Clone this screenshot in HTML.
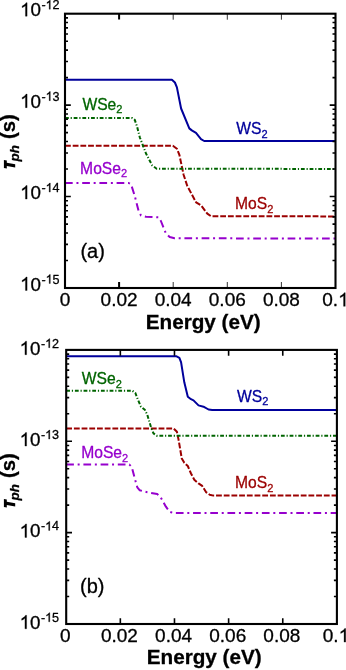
<!DOCTYPE html>
<html>
<head>
<meta charset="utf-8">
<title>Phonon-limited lifetime vs energy</title>
<style>
html, body { margin: 0; padding: 0; background: #ffffff; }
body { width: 346px; height: 670px; overflow: hidden; }
svg { display: block; font-family: "Liberation Sans", sans-serif; will-change: transform; }
text { stroke-width: 0.3px; stroke-linejoin: round; }
</style>
</head>
<body>
<svg width="346" height="670" viewBox="0 0 346 670" style='font-family: "Liberation Sans", sans-serif;'>
<rect x="0" y="0" width="346" height="670" fill="#ffffff"/>
<g stroke="#000">
<polyline points="65,183 128.6,183 131.1,184.4 134.8,196.1 138.6,211 141,215.5 146,216.8 158.5,217.3 160.9,221 165.9,233.4 169.7,237 174.6,238.3 335.5,238.5" fill="none" stroke="#9600cd" stroke-width="2" stroke-linejoin="round" stroke-dasharray="7.7 3.75 2 3.75"/>
<polyline points="65,145.7 172.9,145.7 176.9,148.7 179.4,154.9 183.6,174.8 187.3,186 196.1,202.4 201.1,205.4 207.3,213.6 211,216.2 335.5,216.4" fill="none" stroke="#9b0000" stroke-width="2" stroke-linejoin="round" stroke-dasharray="5.8 1.9"/>
<polyline points="65,117.9 131.8,117.9 134.8,119.9 137.3,127.4 139.8,137.3 146,153.5 152.2,165.4 156.7,168.7 335.5,168.95" fill="none" stroke="#006400" stroke-width="2" stroke-linejoin="round" stroke-dasharray="3.8 1.84 1.2 1.84"/>
<polyline points="65,79.7 171.9,79.7 174.9,82.5 176.9,87.4 181.1,108.5 189.3,128.4 191.8,130.4 196,132.9 201,139.2 204.2,141 335.5,141.05" fill="none" stroke="#00009b" stroke-width="2" stroke-linejoin="round"/>
<path d="M119.1 288v-5.9M119.1 13.7v5.9" stroke="#000" stroke-width="2" fill="none"/>
<path d="M173.2 288v-6M173.2 13.7v6" stroke="#000" stroke-width="0.8" fill="none"/>
<path d="M227.3 288v-6M227.3 13.7v6" stroke="#000" stroke-width="0.8" fill="none"/>
<path d="M281.4 288v-6M281.4 13.7v6" stroke="#000" stroke-width="0.8" fill="none"/>
<path d="M65 105.13h5.8M335.5 105.13h-5.8M65 77.61h3M335.5 77.61h-3M65 61.51h3M335.5 61.51h-3M65 50.08h3M335.5 50.08h-3M65 41.22h3M335.5 41.22h-3M65 33.98h3M335.5 33.98h-3M65 27.86h3M335.5 27.86h-3M65 22.56h3M335.5 22.56h-3M65 17.88h3M335.5 17.88h-3M65 196.57h5.8M335.5 196.57h-5.8M65 169.04h3M335.5 169.04h-3M65 152.94h3M335.5 152.94h-3M65 141.52h3M335.5 141.52h-3M65 132.66h3M335.5 132.66h-3M65 125.42h3M335.5 125.42h-3M65 119.3h3M335.5 119.3h-3M65 113.99h3M335.5 113.99h-3M65 109.32h3M335.5 109.32h-3M65 260.48h3M335.5 260.48h-3M65 244.38h3M335.5 244.38h-3M65 232.95h3M335.5 232.95h-3M65 224.09h3M335.5 224.09h-3M65 216.85h3M335.5 216.85h-3M65 210.73h3M335.5 210.73h-3M65 205.43h3M335.5 205.43h-3M65 200.75h3M335.5 200.75h-3" stroke="#000" stroke-width="1.6" fill="none"/>
<rect x="65" y="13.7" width="270.5" height="274.3" fill="none" stroke="#000" stroke-width="2.1"/>
<text x="59.72" y="306.35" font-size="19">0</text>
<text x="100.61" y="306.35" font-size="19">0.02</text>
<text x="154.71" y="306.35" font-size="19">0.04</text>
<text x="208.81" y="306.35" font-size="19">0.06</text>
<text x="262.91" y="306.35" font-size="19">0.08</text>
<text x="322.3" y="306.35" font-size="19">0.</text><path d="M763 0L583 0L583 1147Q518 1085 412.5 1023Q307 961 223 930L223 1104Q374 1175 487 1276Q600 1377 647 1472L763 1472Z" transform="translate(338.14 306.35) scale(0.00928 -0.00928)" fill="#000" stroke="#000" stroke-width="32.34"/>
<path d="M763 0L583 0L583 1147Q518 1085 412.5 1023Q307 961 223 930L223 1104Q374 1175 487 1276Q600 1377 647 1472L763 1472Z" transform="translate(20.1 16.2) scale(0.00918 -0.00918)" fill="#000" stroke="#000" stroke-width="32.68"/><text x="30.55" y="16.2" font-size="18.8">0</text>
<text x="41.4" y="9.2" font-size="12.6">-</text><path d="M763 0L583 0L583 1147Q518 1085 412.5 1023Q307 961 223 930L223 1104Q374 1175 487 1276Q600 1377 647 1472L763 1472Z" transform="translate(45.6 9.2) scale(0.00615 -0.00615)" fill="#000" stroke="#000" stroke-width="48.76"/><text x="52.6" y="9.2" font-size="12.6">2</text>
<path d="M763 0L583 0L583 1147Q518 1085 412.5 1023Q307 961 223 930L223 1104Q374 1175 487 1276Q600 1377 647 1472L763 1472Z" transform="translate(20.1 107.63) scale(0.00918 -0.00918)" fill="#000" stroke="#000" stroke-width="32.68"/><text x="30.55" y="107.63" font-size="18.8">0</text>
<text x="41.4" y="100.63" font-size="12.6">-</text><path d="M763 0L583 0L583 1147Q518 1085 412.5 1023Q307 961 223 930L223 1104Q374 1175 487 1276Q600 1377 647 1472L763 1472Z" transform="translate(45.6 100.63) scale(0.00615 -0.00615)" fill="#000" stroke="#000" stroke-width="48.76"/><text x="52.6" y="100.63" font-size="12.6">3</text>
<path d="M763 0L583 0L583 1147Q518 1085 412.5 1023Q307 961 223 930L223 1104Q374 1175 487 1276Q600 1377 647 1472L763 1472Z" transform="translate(20.1 199.07) scale(0.00918 -0.00918)" fill="#000" stroke="#000" stroke-width="32.68"/><text x="30.55" y="199.07" font-size="18.8">0</text>
<text x="41.4" y="192.07" font-size="12.6">-</text><path d="M763 0L583 0L583 1147Q518 1085 412.5 1023Q307 961 223 930L223 1104Q374 1175 487 1276Q600 1377 647 1472L763 1472Z" transform="translate(45.6 192.07) scale(0.00615 -0.00615)" fill="#000" stroke="#000" stroke-width="48.76"/><text x="52.6" y="192.07" font-size="12.6">4</text>
<path d="M763 0L583 0L583 1147Q518 1085 412.5 1023Q307 961 223 930L223 1104Q374 1175 487 1276Q600 1377 647 1472L763 1472Z" transform="translate(20.1 290.5) scale(0.00918 -0.00918)" fill="#000" stroke="#000" stroke-width="32.68"/><text x="30.55" y="290.5" font-size="18.8">0</text>
<text x="41.4" y="283.5" font-size="12.6">-</text><path d="M763 0L583 0L583 1147Q518 1085 412.5 1023Q307 961 223 930L223 1104Q374 1175 487 1276Q600 1377 647 1472L763 1472Z" transform="translate(45.6 283.5) scale(0.00615 -0.00615)" fill="#000" stroke="#000" stroke-width="48.76"/><text x="52.6" y="283.5" font-size="12.6">5</text>
<text x="203.2" y="328.9" font-size="20.7" font-weight="bold" text-anchor="middle">Energy (eV)</text>
<g transform="translate(15.2 168.6) rotate(-90)" font-weight="bold"><path d="M0.7,-11.3L8.7,-11.3L8.2,-8.4L5.8,-8.4L4.35,0L1.2,0L2.65,-8.4L0.2,-8.4Z" fill="#000" stroke="none"/><text x="7.2" y="3.7" font-size="13.4" font-style="italic">ph</text><text x="29.6" y="0" font-size="20.3">(s)</text></g>
<text x="80.4" y="258.4" font-size="20">(a)</text>
<text transform="translate(236.3 134.4) scale(0.96 1)" font-size="16.3" fill="#00009b" stroke="#00009b">WS<tspan font-size="11.5" dy="3.3">2</tspan></text>
<text transform="translate(82.4 110.1) scale(0.96 1)" font-size="16.3" fill="#006400" stroke="#006400">WSe<tspan font-size="11.5" dy="3.3">2</tspan></text>
<text transform="translate(235 209.3) scale(0.96 1)" font-size="16.3" fill="#9b0000" stroke="#9b0000">MoS<tspan font-size="11.5" dy="3.3">2</tspan></text>
<text transform="translate(80.1 173.8) scale(0.96 1)" font-size="16.3" fill="#9600cd" stroke="#9600cd">MoSe<tspan font-size="11.5" dy="3.3">2</tspan></text>
</g>
<g stroke="#000">
<polyline points="66.2,464.6 129.4,464.6 131.8,467 134.8,478.6 137.3,487.3 139.8,490.3 147.3,492.3 157.2,494 160.9,497.8 165.9,506.7 169.7,511.8 173.4,513.1 336.9,513.1" fill="none" stroke="#9600cd" stroke-width="2" stroke-linejoin="round" stroke-dasharray="7.7 3.75 2 3.75"/>
<polyline points="66.2,428.45 173.6,428.45 176.9,431.7 178.6,439.9 181.8,458.6 184.3,462.8 187.8,466 191,473.5 194.3,479.7 198.5,483.4 202.2,485.9 206,492.1 209.7,494.7 213.4,495.6 336.9,495.6" fill="none" stroke="#9b0000" stroke-width="2" stroke-linejoin="round" stroke-dasharray="5.8 1.9"/>
<polyline points="66.2,390.75 132.3,390.75 135.3,392.9 137.8,399.4 141,406.8 144.8,409.8 147.3,414.8 151,427.2 153.5,433.4 156.7,435.7 336.9,435.8" fill="none" stroke="#006400" stroke-width="2" stroke-linejoin="round" stroke-dasharray="3.8 1.84 1.2 1.84"/>
<polyline points="66.2,356.2 176.1,356.2 179.4,357.9 181.1,362.4 184.3,382.3 187.8,396.7 191,399.2 193.5,400.4 198.5,405.4 203.5,406.7 208.5,409.5 212.2,410 336.9,410" fill="none" stroke="#00009b" stroke-width="2" stroke-linejoin="round"/>
<path d="M120.34 624v-5.8M120.34 349.9v5.8" stroke="#000" stroke-width="1.6" fill="none"/>
<path d="M174.48 624v-5.8M174.48 349.9v5.8" stroke="#000" stroke-width="1.6" fill="none"/>
<path d="M228.62 624v-5.8M228.62 349.9v5.8" stroke="#000" stroke-width="1.6" fill="none"/>
<path d="M282.76 624v-5.8M282.76 349.9v5.8" stroke="#000" stroke-width="1.6" fill="none"/>
<path d="M66.2 441.27h5.8M336.9 441.27h-5.8M66.2 413.76h3M336.9 413.76h-3M66.2 397.67h3M336.9 397.67h-3M66.2 386.26h3M336.9 386.26h-3M66.2 377.4h3M336.9 377.4h-3M66.2 370.17h3M336.9 370.17h-3M66.2 364.05h3M336.9 364.05h-3M66.2 358.75h3M336.9 358.75h-3M66.2 354.08h3M336.9 354.08h-3M66.2 532.63h5.8M336.9 532.63h-5.8M66.2 505.13h3M336.9 505.13h-3M66.2 489.04h3M336.9 489.04h-3M66.2 477.63h3M336.9 477.63h-3M66.2 468.77h3M336.9 468.77h-3M66.2 461.54h3M336.9 461.54h-3M66.2 455.42h3M336.9 455.42h-3M66.2 450.12h3M336.9 450.12h-3M66.2 445.45h3M336.9 445.45h-3M66.2 596.5h3M336.9 596.5h-3M66.2 580.41h3M336.9 580.41h-3M66.2 568.99h3M336.9 568.99h-3M66.2 560.14h3M336.9 560.14h-3M66.2 552.9h3M336.9 552.9h-3M66.2 546.79h3M336.9 546.79h-3M66.2 541.49h3M336.9 541.49h-3M66.2 536.81h3M336.9 536.81h-3" stroke="#000" stroke-width="1.6" fill="none"/>
<rect x="66.2" y="349.9" width="270.7" height="274.1" fill="none" stroke="#000" stroke-width="2.1"/>
<text x="60.02" y="642.1" font-size="19">0</text>
<text x="100.95" y="642.1" font-size="19">0.02</text>
<text x="155.09" y="642.1" font-size="19">0.04</text>
<text x="209.23" y="642.1" font-size="19">0.06</text>
<text x="263.37" y="642.1" font-size="19">0.08</text>
<text x="322.8" y="642.1" font-size="19">0.</text><path d="M763 0L583 0L583 1147Q518 1085 412.5 1023Q307 961 223 930L223 1104Q374 1175 487 1276Q600 1377 647 1472L763 1472Z" transform="translate(338.64 642.1) scale(0.00928 -0.00928)" fill="#000" stroke="#000" stroke-width="32.34"/>
<path d="M763 0L583 0L583 1147Q518 1085 412.5 1023Q307 961 223 930L223 1104Q374 1175 487 1276Q600 1377 647 1472L763 1472Z" transform="translate(19.6 354.7) scale(0.00918 -0.00918)" fill="#000" stroke="#000" stroke-width="32.68"/><text x="30.05" y="354.7" font-size="18.8">0</text>
<text x="40.9" y="347.7" font-size="12.6">-</text><path d="M763 0L583 0L583 1147Q518 1085 412.5 1023Q307 961 223 930L223 1104Q374 1175 487 1276Q600 1377 647 1472L763 1472Z" transform="translate(45.1 347.7) scale(0.00615 -0.00615)" fill="#000" stroke="#000" stroke-width="48.76"/><text x="52.1" y="347.7" font-size="12.6">2</text>
<path d="M763 0L583 0L583 1147Q518 1085 412.5 1023Q307 961 223 930L223 1104Q374 1175 487 1276Q600 1377 647 1472L763 1472Z" transform="translate(19.6 446.07) scale(0.00918 -0.00918)" fill="#000" stroke="#000" stroke-width="32.68"/><text x="30.05" y="446.07" font-size="18.8">0</text>
<text x="40.9" y="439.07" font-size="12.6">-</text><path d="M763 0L583 0L583 1147Q518 1085 412.5 1023Q307 961 223 930L223 1104Q374 1175 487 1276Q600 1377 647 1472L763 1472Z" transform="translate(45.1 439.07) scale(0.00615 -0.00615)" fill="#000" stroke="#000" stroke-width="48.76"/><text x="52.1" y="439.07" font-size="12.6">3</text>
<path d="M763 0L583 0L583 1147Q518 1085 412.5 1023Q307 961 223 930L223 1104Q374 1175 487 1276Q600 1377 647 1472L763 1472Z" transform="translate(19.6 537.43) scale(0.00918 -0.00918)" fill="#000" stroke="#000" stroke-width="32.68"/><text x="30.05" y="537.43" font-size="18.8">0</text>
<text x="40.9" y="530.43" font-size="12.6">-</text><path d="M763 0L583 0L583 1147Q518 1085 412.5 1023Q307 961 223 930L223 1104Q374 1175 487 1276Q600 1377 647 1472L763 1472Z" transform="translate(45.1 530.43) scale(0.00615 -0.00615)" fill="#000" stroke="#000" stroke-width="48.76"/><text x="52.1" y="530.43" font-size="12.6">4</text>
<path d="M763 0L583 0L583 1147Q518 1085 412.5 1023Q307 961 223 930L223 1104Q374 1175 487 1276Q600 1377 647 1472L763 1472Z" transform="translate(19.6 628.8) scale(0.00918 -0.00918)" fill="#000" stroke="#000" stroke-width="32.68"/><text x="30.05" y="628.8" font-size="18.8">0</text>
<text x="40.9" y="621.8" font-size="12.6">-</text><path d="M763 0L583 0L583 1147Q518 1085 412.5 1023Q307 961 223 930L223 1104Q374 1175 487 1276Q600 1377 647 1472L763 1472Z" transform="translate(45.1 621.8) scale(0.00615 -0.00615)" fill="#000" stroke="#000" stroke-width="48.76"/><text x="52.1" y="621.8" font-size="12.6">5</text>
<text x="204.2" y="664.15" font-size="20.7" font-weight="bold" text-anchor="middle">Energy (eV)</text>
<g transform="translate(15.2 507.6) rotate(-90)" font-weight="bold"><path d="M0.7,-11.3L8.7,-11.3L8.2,-8.4L5.8,-8.4L4.35,0L1.2,0L2.65,-8.4L0.2,-8.4Z" fill="#000" stroke="none"/><text x="7.2" y="3.7" font-size="13.4" font-style="italic">ph</text><text x="29.6" y="0" font-size="20.3">(s)</text></g>
<text x="80" y="592.7" font-size="20">(b)</text>
<text transform="translate(237 401.9) scale(0.96 1)" font-size="16.3" fill="#00009b" stroke="#00009b">WS<tspan font-size="11.5" dy="3.3">2</tspan></text>
<text transform="translate(81.8 384.4) scale(0.96 1)" font-size="16.3" fill="#006400" stroke="#006400">WSe<tspan font-size="11.5" dy="3.3">2</tspan></text>
<text transform="translate(235 488.2) scale(0.96 1)" font-size="16.3" fill="#9b0000" stroke="#9b0000">MoS<tspan font-size="11.5" dy="3.3">2</tspan></text>
<text transform="translate(81.2 458.2) scale(0.96 1)" font-size="16.3" fill="#9600cd" stroke="#9600cd">MoSe<tspan font-size="11.5" dy="3.3">2</tspan></text>
</g>
</svg>
</body>
</html>
